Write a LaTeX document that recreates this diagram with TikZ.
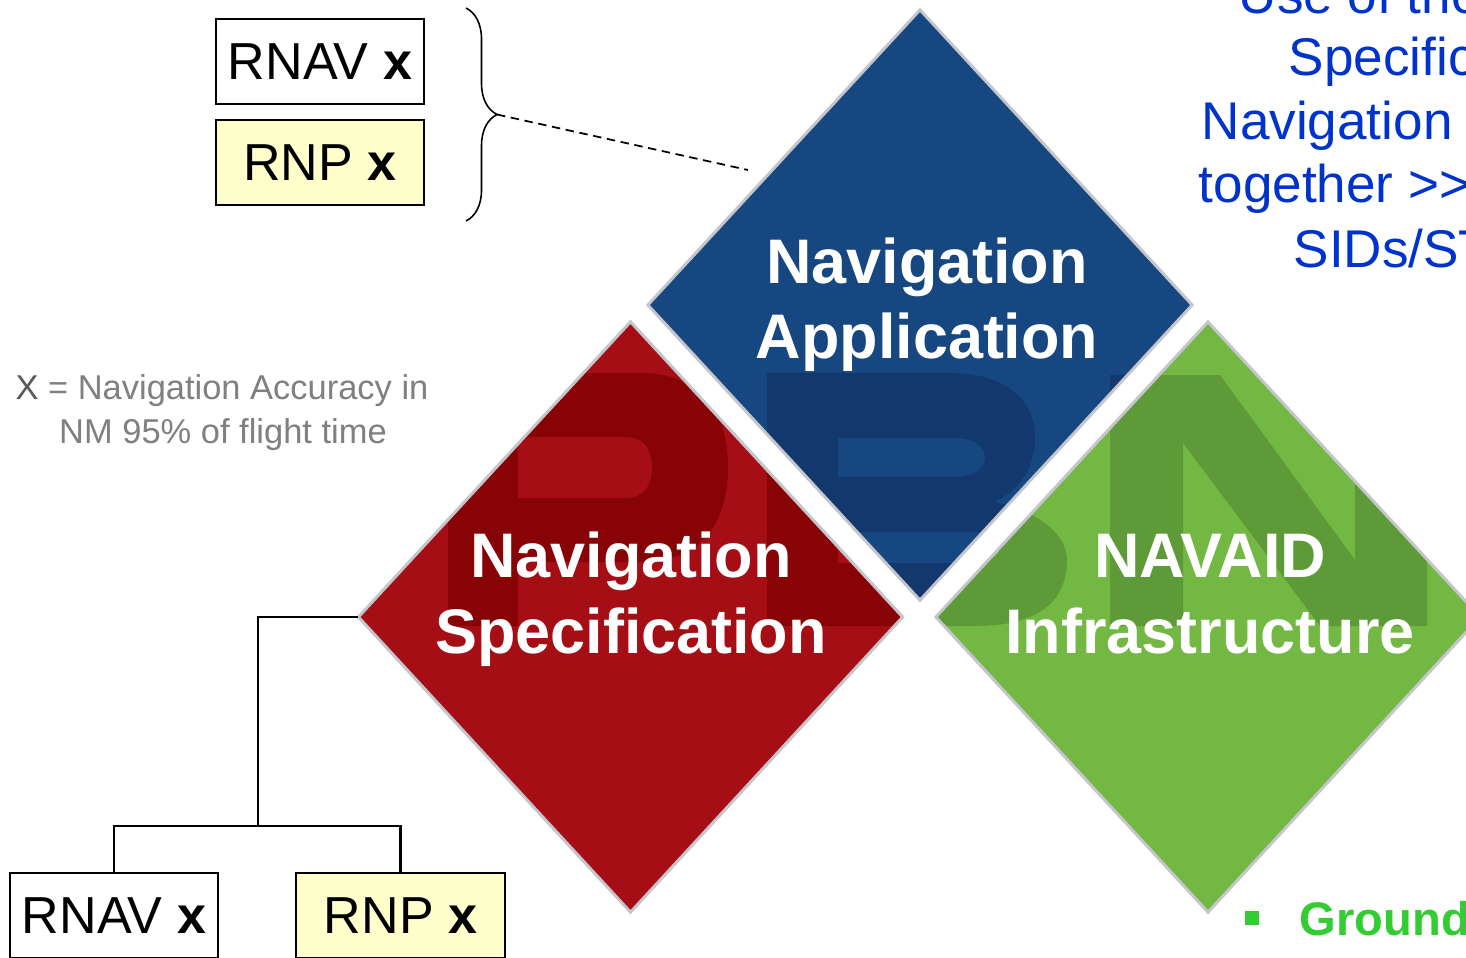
\documentclass[tikz,border=0pt]{standalone}
\usepackage{fontspec}
\setmainfont{Liberation Sans}
\usetikzlibrary{shapes.geometric,decorations.pathreplacing}

\definecolor{appblue}{HTML}{164780}
\definecolor{appdark}{HTML}{12386E}
\definecolor{specred}{HTML}{A60E16}
\definecolor{specdark}{HTML}{870305}
\definecolor{infragreen}{HTML}{72B843}
\definecolor{infradark}{HTML}{5E9A38}
\definecolor{rimgray}{HTML}{C5C5CC}
\definecolor{rnpyellow}{HTML}{FFFFCC}
\definecolor{notegray}{HTML}{808080}
\definecolor{xgray}{HTML}{5A5A5A}
\definecolor{textblue}{HTML}{0033CC}
\definecolor{groundgreen}{HTML}{33CC33}

\tikzset{
  gem/.style={shape=diamond, inner sep=0pt, outer sep=0pt,
    minimum width=5.44cm, minimum height=5.9cm},
  rim/.style={draw=rimgray, line width=0.85pt, line join=miter},
  gemtext/.style={text=white, anchor=base, inner sep=0pt,
    font=\bfseries\fontsize{17.9}{20}\selectfont},
  xbox/.style={draw=black, line width=0.6pt, minimum width=2.08cm,
    minimum height=0.85cm, inner sep=0pt,
    font=\fontsize{14.8}{16}\selectfont},
  wire/.style={draw=black, line width=0.6pt},
  sidetext/.style={text=textblue, anchor=base west, inner sep=0pt,
    font=\fontsize{15.1}{17}\selectfont},
  note/.style={text=notegray, anchor=base, inner sep=0pt,
    font=\fontsize{9.8}{12}\selectfont}
}

% the big block letters P, B, N laid behind the diamonds
\newcommand\pbnletters[1]{%
  % P
  \fill[#1, even odd rule]
    (448,626) -- (448,373) -- (640,373)
      .. controls (700,373) and (728,410) .. (728,467)
      .. controls (728,525) and (700,562) .. (640,562)
      -- (518,562) -- (518,626) -- cycle
    (518,437) -- (625,437)
      .. controls (645,437) and (652,450) .. (652,467)
      .. controls (652,485) and (645,498) .. (625,498)
      -- (518,498) -- cycle;
  % B
  \fill[#1, even odd rule]
    (767,626) -- (767,373) -- (950,373)
      .. controls (1005,373) and (1035,400) .. (1035,437)
      .. controls (1035,470) and (1018,490) .. (995,502)
      .. controls (1040,512) and (1067,535) .. (1067,560)
      .. controls (1067,600) and (1040,626) .. (975,626) -- cycle
    (838,438) -- (955,438)
      .. controls (975,438) and (985,447) .. (985,457)
      .. controls (985,468) and (975,477) .. (955,477)
      -- (838,477) -- cycle
    (838,532) -- (965,532)
      .. controls (990,532) and (1000,539) .. (1000,547)
      .. controls (1000,556) and (990,563) .. (965,563)
      -- (838,563) -- cycle;
  % N
  \fill[#1]
    (1110,626) -- (1110,375) -- (1220,375) -- (1355,560) -- (1355,375)
    -- (1427,375) -- (1427,626) -- (1320,626) -- (1183,443)
    -- (1183,626) -- cycle;
}

\begin{document}
\begin{tikzpicture}[x=0.01cm, y=-0.01cm]
\clip (0,0) rectangle (1466,957);
\fill[white] (0,0) rectangle (1466,957);

% the three diamonds
\node[gem, fill=appblue] (app) at (920,305) {};
\node[gem, fill=specred] (spec) at (630.5,617) {};
\node[gem, fill=infragreen] (infra) at (1208,617) {};

\begin{scope}
  \clip (app.north) -- (app.east) -- (app.south) -- (app.west) -- cycle;
  \pbnletters{appdark}
\end{scope}
\begin{scope}
  \clip (spec.north) -- (spec.east) -- (spec.south) -- (spec.west) -- cycle;
  \pbnletters{specdark}
\end{scope}
\begin{scope}
  \clip (infra.north) -- (infra.east) -- (infra.south) -- (infra.west) -- cycle;
  \pbnletters{infradark}
\end{scope}

\draw[rim] (app.north) -- (app.east) -- (app.south) -- (app.west) -- cycle;
\draw[rim] (spec.north) -- (spec.east) -- (spec.south) -- (spec.west) -- cycle;
\draw[rim] (infra.north) -- (infra.east) -- (infra.south) -- (infra.west) -- cycle;

% diamond captions
\node[gemtext] (appA) at (927,283) {Navigation};
\node[gemtext] (appB) at (927,358) {Application};
\node[gemtext] (specA) at (631,577) {Navigation};
\node[gemtext] (specB) at (631,653) {Specification};
\node[gemtext] (infraA) at (1210,577) {NAVAID};
\node[gemtext] (infraB) at (1210,653) {Infrastructure};

% upper pair of boxes with the brace
\node[xbox] (topRnav) at (320,61.5) {RNAV \textbf{x}};
\node[xbox, fill=rnpyellow] (topRnp) at (320,162.5) {RNP \textbf{x}};
\draw[line width=0.45pt, decorate, decoration={brace, amplitude=0.31cm}]
  (466,8) -- (466,221);
\coordinate (braceTip) at (497,114.5);
\coordinate (dashEnd) at (748,170);
\draw[line width=0.5pt, dash pattern=on 2.4pt off 1.6pt] (braceTip) -- (dashEnd);

% accuracy note
\node[note] (noteA) at (222,399) {\textcolor{xgray}{X} = Navigation Accuracy in};
\node[note] (noteB) at (223,443) {NM 95\% of flight time};

% tree below the specification diamond
\node[xbox] (lowRnav) at (114,915.5) {RNAV \textbf{x}};
\node[xbox, fill=rnpyellow] (lowRnp) at (400.5,915.5) {RNP \textbf{x}};
\coordinate (split) at (258,826);
\draw[wire] (spec.west) -| (split);
\draw[wire] (lowRnav.north) |- (split) -| (lowRnp.north);

% side text
\node[sidetext] (sideA) at (1238,13) {Use of the};
\node[sidetext] (sideB) at (1288,75) {Specific};
\node[sidetext] (sideC) at (1201,139) {Navigation};
\node[sidetext] (sideD) at (1198,202) {together >{}>};
\node[sidetext] (sideE) at (1293,267) {SIDs/ST};

% bullet line
\node[fill=groundgreen, minimum size=0.14cm, inner sep=0pt] (bullet) at (1252,917.5) {};
\node[anchor=base west, inner sep=0pt, text=groundgreen,
  font=\bfseries\fontsize{13.4}{15}\selectfont] (ground) at (1299,935) {Ground};
\end{tikzpicture}
\end{document}
